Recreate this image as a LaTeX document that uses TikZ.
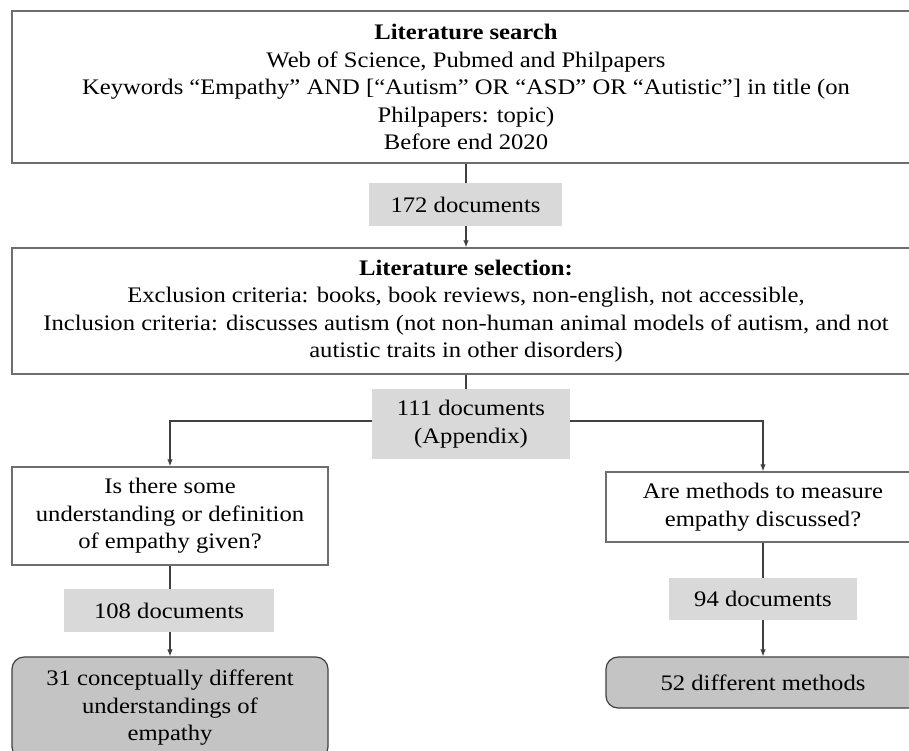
\documentclass[tikz,border=0pt]{standalone}
\usepackage{fontspec}
\setmainfont{Liberation Serif}[FakeStretch=1.11]
\usetikzlibrary{arrows.meta}
\definecolor{boxline}{HTML}{6E6E6E}
\definecolor{lightfill}{HTML}{D9D9D9}
\definecolor{darkfill}{HTML}{C4C4C4}
\definecolor{conn}{HTML}{404040}
\tikzset{
  every node/.style={font=\fontsize{22.2}{27.5}\selectfont, align=center, inner sep=0pt},
  whitebox/.style={draw=boxline, line width=1.4pt, fill=white},
  countbox/.style={fill=lightfill},
  resultbox/.style={draw=conn, line width=1.2pt, fill=darkfill, rounded corners=12pt},
  link/.style={draw=conn, line width=1.1pt},
  arr/.style={link, -{Latex[length=7pt,width=5.5pt]}}
}
\begin{document}
\begin{tikzpicture}[x=1pt,y=-1pt]
\clip (0,0) rectangle (909,750);
\fill[white] (0,0) rectangle (909,750);
\node[whitebox, minimum width=908pt, minimum height=152pt] (search) at (466,87)
  {\textbf{Literature search}\\ Web of Science, Pubmed and Philpapers\\
   Keywords “Empathy” AND [“Autism” OR “ASD” OR “Autistic”] in title (on\\
   Philpapers: topic)\\ Before end 2020};
\node[countbox, minimum width=193pt, minimum height=43pt] (n172) at (465.5,204.5) {172 documents};
\node[whitebox, minimum width=908pt, minimum height=126pt] (select) at (466,311)
  {\textbf{Literature selection:}\\
   Exclusion criteria: books, book reviews, non-english, not accessible,\\
   Inclusion criteria: discusses autism (not non-human animal models of autism, and not\\
   autistic traits in other disorders)};
\node[countbox, minimum width=198pt, minimum height=70pt] (n111) at (471,424) {111 documents\\ (Appendix)};
\node[whitebox, minimum width=316pt, minimum height=98pt] (def) at (170,516)
  {Is there some\\ understanding or definition\\ of empathy given?};
\node[whitebox, minimum width=314pt, minimum height=70pt] (meth) at (763,507)
  {Are methods to measure\\ empathy discussed?};
\node[countbox, minimum width=210pt, minimum height=43pt] (n108) at (169,610.5) {108 documents};
\node[countbox, minimum width=188pt, minimum height=42pt] (n94) at (763,599) {94 documents};
\node[resultbox, minimum width=316pt, minimum height=102pt] (res31) at (170,708)
  {31 conceptually different\\ understandings of\\ empathy};
\node[resultbox, minimum width=314pt, minimum height=51pt] (res52) at (763,682.5)
  {52 different methods};

\draw[link] (search.south) -- (search.south |- n172.north);
\draw[arr] (search.south |- n172.south) -- (search.south |- select.north);
\draw[link] (select.south) -- (select.south |- n111.north);
\draw[arr] ([yshift=3pt]n111.west) -| (def.north);
\draw[arr] ([yshift=3pt]n111.east) -| (meth.north);
\draw[link] (def.south) -- (def.south |- n108.north);
\draw[arr] (def.south |- n108.south) -- (res31.north);
\draw[link] (meth.south) -- (n94.north);
\draw[arr] (n94.south) -- (res52.north);
\end{tikzpicture}
\end{document}
